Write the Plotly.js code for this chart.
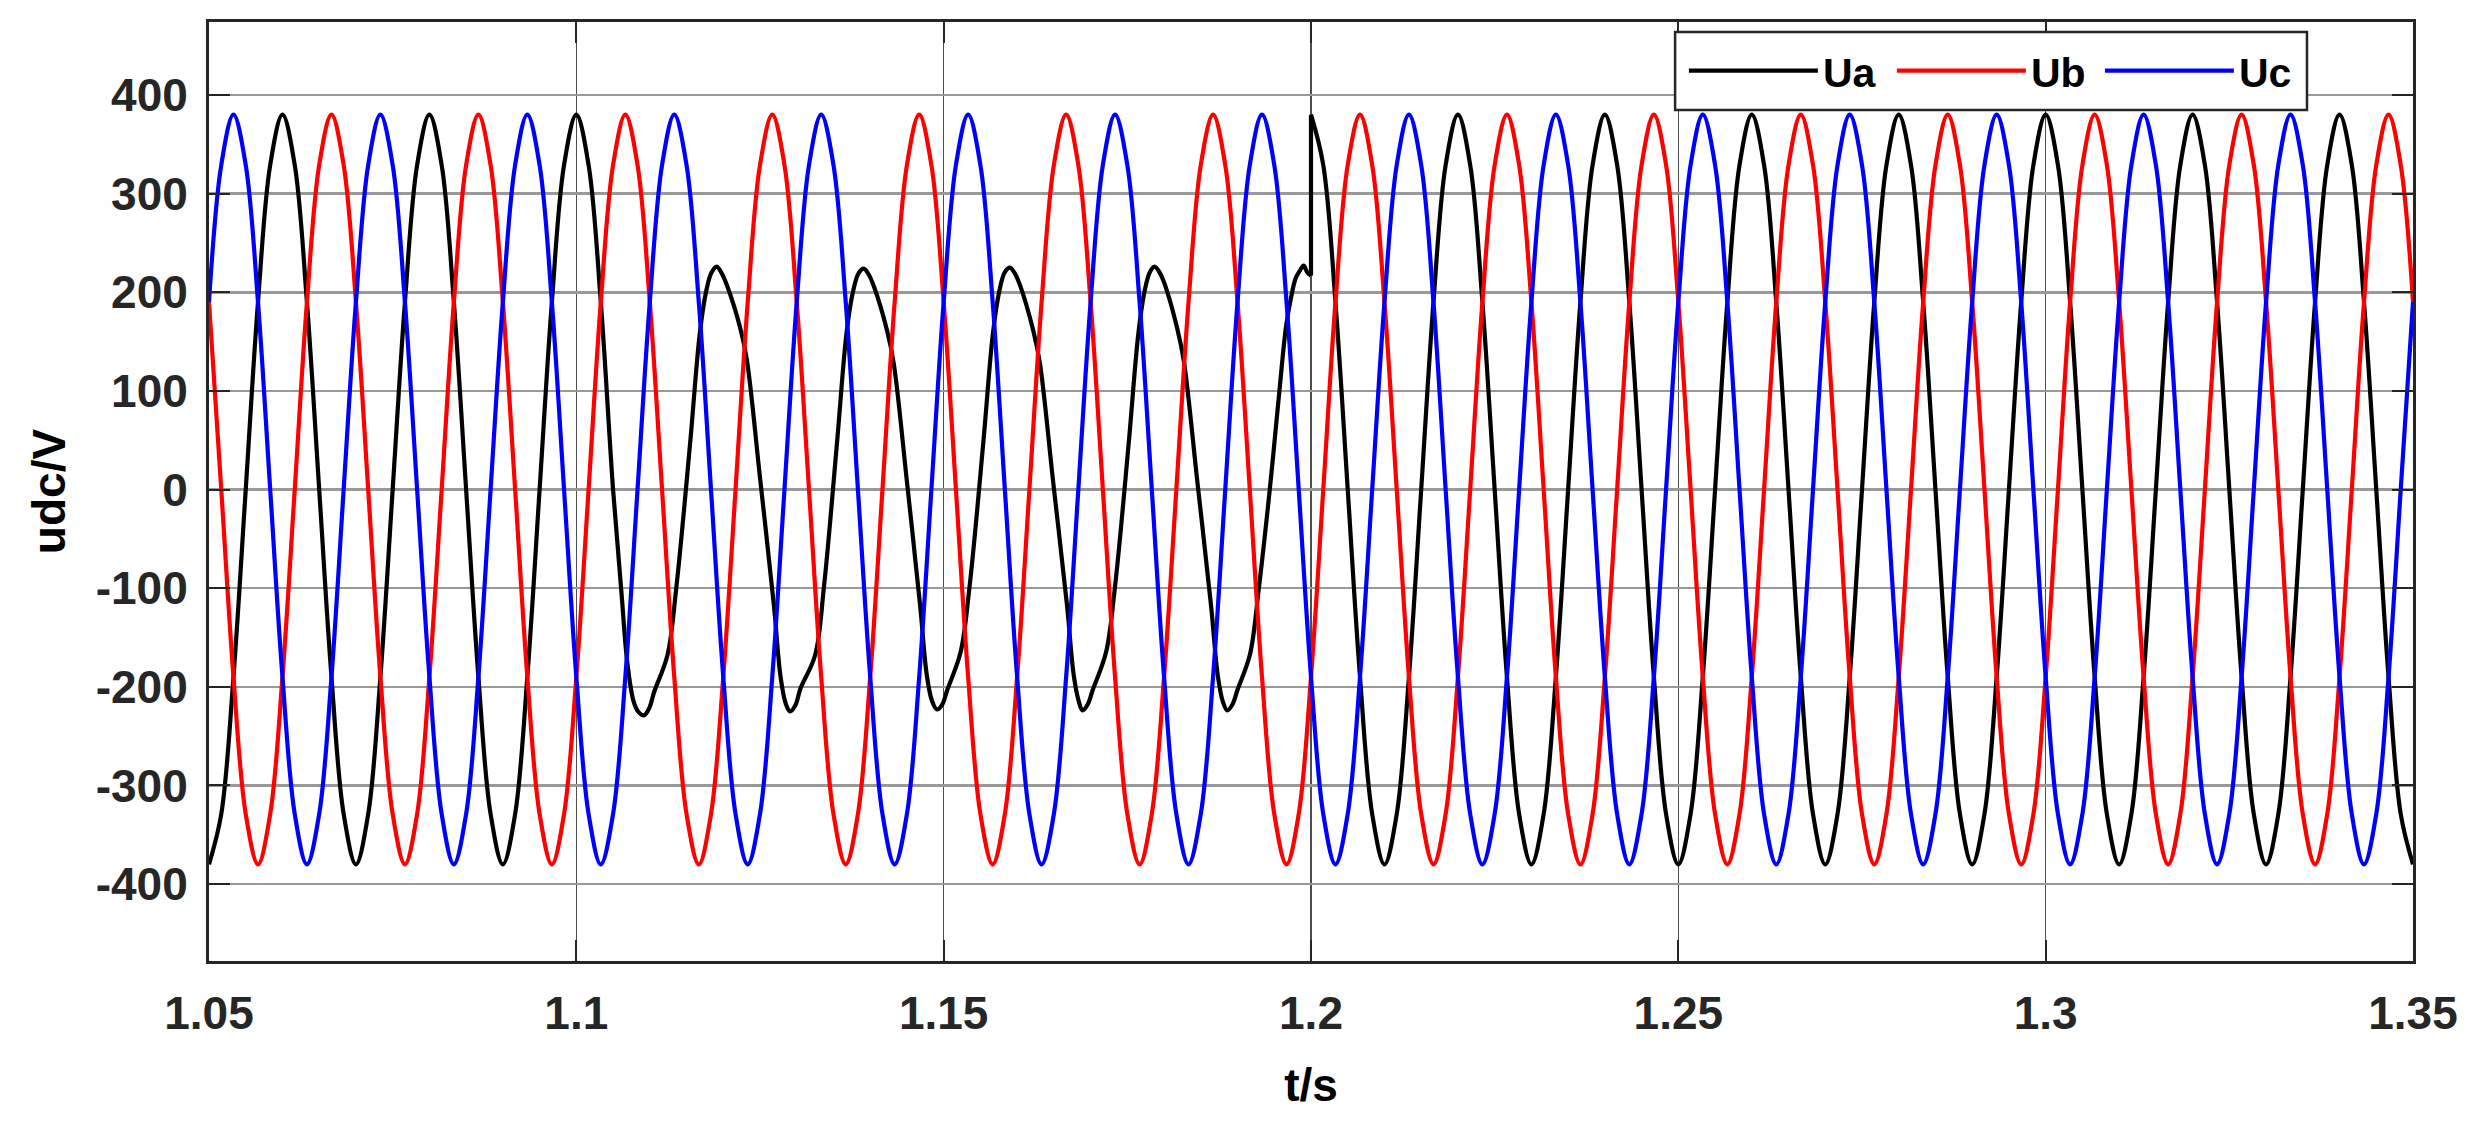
<!DOCTYPE html>
<html>
<head>
<meta charset="utf-8">
<script src="https://cdn.plot.ly/plotly-3.0.1.min.js"></script>
<style>
  html, body { margin: 0; padding: 0; background: #ffffff; }
  #chart { width: 2471px; height: 1121px; }
</style>
</head>
<body>
<div id="chart"></div>
<script>
// ---- time grid (s) at every 30 electrical degrees ----
const tGrid = [
  1.05,1.05167,1.05333,1.055,1.05667,1.05833,
  1.06,1.06167,1.06333,1.065,1.06667,1.06833,
  1.07,1.07167,1.07333,1.075,1.07667,1.07833,
  1.08,1.08167,1.08333,1.085,1.08667,1.08833,
  1.09,1.09167,1.09333,1.095,1.09667,1.09833,
  1.1,1.10167,1.10333,1.105,1.10667,1.10833,
  1.11,1.11167,1.11333,1.115,1.11667,1.11833,
  1.12,1.12167,1.12333,1.125,1.12667,1.12833,
  1.13,1.13167,1.13333,1.135,1.13667,1.13833,
  1.14,1.14167,1.14333,1.145,1.14667,1.14833,
  1.15,1.15167,1.15333,1.155,1.15667,1.15833,
  1.16,1.16167,1.16333,1.165,1.16667,1.16833,
  1.17,1.17167,1.17333,1.175,1.17667,1.17833,
  1.18,1.18167,1.18333,1.185,1.18667,1.18833,
  1.19,1.19167,1.19333,1.195,1.19667,1.19833,
  1.2,1.20167,1.20333,1.205,1.20667,1.20833,
  1.21,1.21167,1.21333,1.215,1.21667,1.21833,
  1.22,1.22167,1.22333,1.225,1.22667,1.22833,
  1.23,1.23167,1.23333,1.235,1.23667,1.23833,
  1.24,1.24167,1.24333,1.245,1.24667,1.24833,
  1.25,1.25167,1.25333,1.255,1.25667,1.25833,
  1.26,1.26167,1.26333,1.265,1.26667,1.26833,
  1.27,1.27167,1.27333,1.275,1.27667,1.27833,
  1.28,1.28167,1.28333,1.285,1.28667,1.28833,
  1.29,1.29167,1.29333,1.295,1.29667,1.29833,
  1.3,1.30167,1.30333,1.305,1.30667,1.30833,
  1.31,1.31167,1.31333,1.315,1.31667,1.31833,
  1.32,1.32167,1.32333,1.325,1.32667,1.32833,
  1.33,1.33167,1.33333,1.335,1.33667,1.33833,
  1.34,1.34167,1.34333,1.345,1.34667,1.34833,
  1.35
];

// ---- Ub (V) on tGrid ----
const ubV = [
  190,0,-190,-329,-380,-329,-190,0,190,329,380,329,
  190,0,-190,-329,-380,-329,-190,0,190,329,380,329,
  190,0,-190,-329,-380,-329,-190,0,190,329,380,329,
  190,0,-190,-329,-380,-329,-190,0,190,329,380,329,
  190,0,-190,-329,-380,-329,-190,0,190,329,380,329,
  190,0,-190,-329,-380,-329,-190,0,190,329,380,329,
  190,0,-190,-329,-380,-329,-190,0,190,329,380,329,
  190,0,-190,-329,-380,-329,-190,0,190,329,380,329,
  190,0,-190,-329,-380,-329,-190,0,190,329,380,329,
  190,0,-190,-329,-380,-329,-190,0,190,329,380,329,
  190,0,-190,-329,-380,-329,-190,0,190,329,380,329,
  190,0,-190,-329,-380,-329,-190,0,190,329,380,329,
  190,0,-190,-329,-380,-329,-190,0,190,329,380,329,
  190,0,-190,-329,-380,-329,-190,0,190,329,380,329,
  190,0,-190,-329,-380,-329,-190,0,190,329,380,329,
  190
];

// ---- Uc (V) on tGrid ----
const ucV = [
  190,329,380,329,190,0,-190,-329,-380,-329,-190,0,
  190,329,380,329,190,0,-190,-329,-380,-329,-190,0,
  190,329,380,329,190,0,-190,-329,-380,-329,-190,0,
  190,329,380,329,190,0,-190,-329,-380,-329,-190,0,
  190,329,380,329,190,0,-190,-329,-380,-329,-190,0,
  190,329,380,329,190,0,-190,-329,-380,-329,-190,0,
  190,329,380,329,190,0,-190,-329,-380,-329,-190,0,
  190,329,380,329,190,0,-190,-329,-380,-329,-190,0,
  190,329,380,329,190,0,-190,-329,-380,-329,-190,0,
  190,329,380,329,190,0,-190,-329,-380,-329,-190,0,
  190,329,380,329,190,0,-190,-329,-380,-329,-190,0,
  190,329,380,329,190,0,-190,-329,-380,-329,-190,0,
  190,329,380,329,190,0,-190,-329,-380,-329,-190,0,
  190,329,380,329,190,0,-190,-329,-380,-329,-190,0,
  190,329,380,329,190,0,-190,-329,-380,-329,-190,0,
  190
];

// ---- Ua before 1.2 s: healthy until 1.105 s, then the distorted waveform ----
const uaT1 = [
  1.05,1.05167,1.05333,1.055,1.05667,1.05833,
  1.06,1.06167,1.06333,1.065,1.06667,1.06833,
  1.07,1.07167,1.07333,1.075,1.07667,1.07833,
  1.08,1.08167,1.08333,1.085,1.08667,1.08833,
  1.09,1.09167,1.09333,1.095,1.09667,1.09833,
  1.1,1.10167,1.10333,1.105,
  1.1062,1.1069,1.1078,1.1085,1.1092,1.1099,1.1106,1.1124,1.1136,1.1155,1.1168,1.1177,1.1184,1.1191,1.1198,1.1205,1.1223,
  1.1232,1.125,1.1269,1.1278,1.1285,1.1291,1.1298,1.1305,1.1325,1.1337,1.1355,1.1368,1.1377,1.1384,1.1391,1.1398,1.1405,1.1423,
  1.1432,1.145,1.1468,1.1477,1.1484,1.1491,1.1498,1.1505,1.1523,1.1535,1.1554,1.1567,1.1576,1.1583,1.159,1.1597,1.1604,1.1622,
  1.1631,1.1649,1.1668,1.1677,1.1684,1.1689,1.1696,1.1703,1.1721,1.1733,1.1752,1.1765,1.1774,1.1781,1.1787,1.1794,1.1801,1.1818,
  1.1827,1.1845,1.1864,1.1873,1.188,1.1886,1.1893,1.19,1.1917,1.1929,1.1944,1.1957,1.1966,1.1973,1.1979,1.1985,1.199,1.1995,1.2
];
const uaV1 = [
  -380,-329,-190,0,190,329,
  380,329,190,0,-190,-329,
  -380,-329,-190,0,190,329,
  380,329,190,0,-190,-329,
  -380,-329,-190,0,190,329,
  380,329,190,0,
  -110,-173,-215,-226,-229,-222,-205,-168,-100,48,158,202,220,226,219,207,164,
  132,12,-118,-190,-217,-225,-219,-202,-168,-99,49,160,202,219,224,218,206,161,
  128,8,-118,-188,-214,-223,-218,-203,-165,-100,48,158,202,220,225,219,207,161,
  128,8,-118,-188,-215,-224,-218,-203,-165,-100,48,158,203,221,226,220,208,163,
  130,10,-118,-188,-215,-224,-218,-203,-167,-100,1,100,165,195,214,222,227,220,217
];

// ---- Ua from 1.2 s (restored), on tGrid from 1.2 s onwards ----
const uaT2 = tGrid.slice(tGrid.indexOf(1.2));
const uaV2 = [
  380,329,190,0,-190,-329,-380,-329,-190,0,190,329,
  380,329,190,0,-190,-329,-380,-329,-190,0,190,329,
  380,329,190,0,-190,-329,-380,-329,-190,0,190,329,
  380,329,190,0,-190,-329,-380,-329,-190,0,190,329,
  380,329,190,0,-190,-329,-380,-329,-190,0,190,329,
  380,329,190,0,-190,-329,-380,-329,-190,0,190,329,
  380,329,190,0,-190,-329,-380,-329,-190,0,190,329,
  380,329,190,0,-190,-329,-380
];

const xTicks = [1.05, 1.1, 1.15, 1.2, 1.25, 1.3, 1.35];
const xTickText = ['1.05', '1.1', '1.15', '1.2', '1.25', '1.3', '1.35'];
const yTicks = [-400, -300, -200, -100, 0, 100, 200, 300, 400];
const yTickText = ['-400', '-300', '-200', '-100', '0', '100', '200', '300', '400'];
const seriesNames = ['Ua', 'Ub', 'Uc'];

const FONT = 'Liberation Sans, Arial, Helvetica, sans-serif';
const LW = 4.2;

const traces = [
  { x: uaT1, y: uaV1, name: seriesNames[0], type: 'scatter', mode: 'lines',
    line: { color: '#000000', width: LW, shape: 'spline', smoothing: 1 } },
  { x: [uaT1[uaT1.length - 1], uaT2[0]], y: [uaV1[uaV1.length - 1], uaV2[0]],
    name: seriesNames[0], showlegend: false, type: 'scatter', mode: 'lines',
    line: { color: '#000000', width: LW } },
  { x: uaT2, y: uaV2, name: seriesNames[0], showlegend: false, type: 'scatter', mode: 'lines',
    line: { color: '#000000', width: LW, shape: 'spline', smoothing: 1 } },
  { x: tGrid, y: ubV, name: seriesNames[1], type: 'scatter', mode: 'lines',
    line: { color: '#ff0000', width: LW, shape: 'spline', smoothing: 1 } },
  { x: tGrid, y: ucV, name: seriesNames[2], type: 'scatter', mode: 'lines',
    line: { color: '#0000ff', width: LW, shape: 'spline', smoothing: 1 } }
];

const layout = {
  width: 2471, height: 1121,
  margin: { l: 209, r: 58, t: 22, b: 160, pad: 0 },
  paper_bgcolor: '#ffffff', plot_bgcolor: '#ffffff',
  showlegend: true,
  legend: {
    orientation: 'h', x: 0.6692, y: 0.9478, xanchor: 'left', yanchor: 'middle',
    bgcolor: 'rgba(0,0,0,0)', borderwidth: 0,
    font: { family: FONT, size: 41, color: '#000000', weight: 'bold' },
    itemwidth: 129, entrywidth: 64, entrywidthmode: 'pixels'
  },
  shapes: [
    { type: 'rect', xref: 'paper', yref: 'paper', layer: 'above',
      x0: 0.6652, x1: 0.9519, y0: 0.9063, y1: 0.9893,
      fillcolor: '#ffffff', line: { color: '#262626', width: 2.5 } }
  ],
  xaxis: {
    range: [1.05, 1.35], tickmode: 'array', tickvals: xTicks, ticktext: xTickText,
    showgrid: true, gridcolor: '#4d4d4d', gridwidth: 1.5, zeroline: false,
    ticks: 'inside', ticklen: 21, tickwidth: 2, tickcolor: '#262626',
    showline: true, linecolor: '#262626', linewidth: 3, mirror: 'ticks',
    tickfont: { family: FONT, size: 46, color: '#262626', weight: 'bold' },
    ticklabelstandoff: 10,
    title: { text: 't/s', font: { family: FONT, size: 46, color: '#000000', weight: 'bold' }, standoff: 31 }
  },
  yaxis: {
    range: [-478, 474], tickmode: 'array', tickvals: yTicks, ticktext: yTickText,
    showgrid: true, gridcolor: '#999999', gridwidth: 2.5, zeroline: false,
    ticks: 'inside', ticklen: 21, tickwidth: 2, tickcolor: '#262626',
    showline: true, linecolor: '#262626', linewidth: 3, mirror: 'ticks',
    tickfont: { family: FONT, size: 46, color: '#262626', weight: 'bold' },
    ticklabelstandoff: 9,
    title: { text: 'udc/V', font: { family: FONT, size: 46, color: '#000000', weight: 'bold' }, standoff: 16 }
  }
};

Plotly.newPlot('chart', traces, layout, { displayModeBar: false, staticPlot: true });
</script>
</body>
</html>
